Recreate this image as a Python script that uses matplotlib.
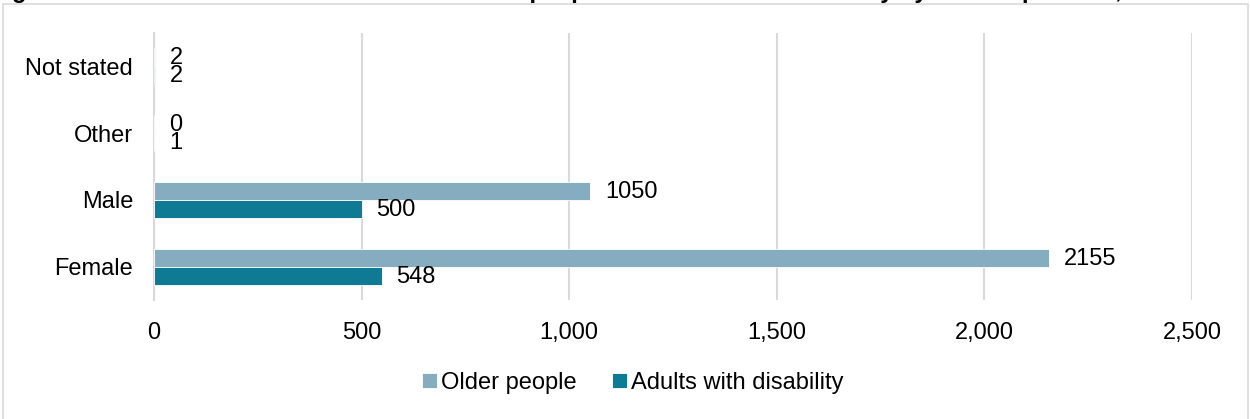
import matplotlib.pyplot as plt
from matplotlib.patches import Rectangle

plt.rcParams['font.family'] = ['Liberation Sans', 'DejaVu Sans']

categories = ['Female', 'Male', 'Other', 'Not stated']
older_people = [2155, 1050, 0, 2]
adults_disability = [548, 500, 1, 2]
xticks = [0, 500, 1000, 1500, 2000, 2500]

light = '#85ADBF'
dark = '#0E7A93'
grid = '#D9D9D9'
fs = 17

fig = plt.figure(figsize=(12.5, 4.19), dpi=100)
ax = fig.add_axes([0.1232, 0.284, 0.8304, 0.637])

# light grey frame round the chart
fig.patches.append(Rectangle((0.0025, -0.01), 0.9955, 1.0, transform=fig.transFigure,
                             fill=False, edgecolor=grid, linewidth=1.2))

# title is cut off at the top of the source picture, only descenders show
fig.text(-0.007, 1.004,
         'Figure 4: Gender of clients of services for older people and adults with disability by service provider, 2021',
         fontsize=fs, fontweight='bold', ha='left', va='baseline')

h = 0.27
y = list(range(len(categories)))
y_old = [v + h / 2 for v in y]
y_dis = [v - h / 2 for v in y]
ax.barh(y_old, older_people, height=h, color=light, edgecolor='white', linewidth=0.6,
        label='Older people', zorder=3)
ax.barh(y_dis, adults_disability, height=h, color=dark, edgecolor='white', linewidth=0.6,
        label='Adults with disability', zorder=3)

for yy, v in zip(y_old, older_people):
    ax.annotate(str(v), (v, yy), xytext=(15, -1), textcoords='offset pixels',
                ha='left', va='center', fontsize=fs)
for yy, v in zip(y_dis, adults_disability):
    ax.annotate(str(v), (v, yy), xytext=(15, -1), textcoords='offset pixels',
                ha='left', va='center', fontsize=fs)

ax.set_xlim(0, 2500)
ax.set_ylim(-0.5, 3.5)
ax.set_xticks(xticks)
ax.set_xticklabels([f'{t:,}' for t in xticks], fontsize=fs)
ax.set_yticks(y)
ax.set_yticklabels(categories, fontsize=fs)
ax.tick_params(axis='x', length=0, pad=16)
ax.tick_params(axis='y', length=0, pad=15)
ax.xaxis.grid(True, color=grid, linewidth=1.5, zorder=0)
for s in ['top', 'right', 'bottom']:
    ax.spines[s].set_visible(False)
ax.spines['left'].set_color(grid)
ax.spines['left'].set_linewidth(1.5)

ax.legend(loc='center', bbox_to_anchor=(0.461, -0.31), ncol=2, frameon=False,
          fontsize=fs, handlelength=0.65, handleheight=0.65, handletextpad=0.15,
          columnspacing=1.5)

plt.savefig('out.png', dpi=100)
